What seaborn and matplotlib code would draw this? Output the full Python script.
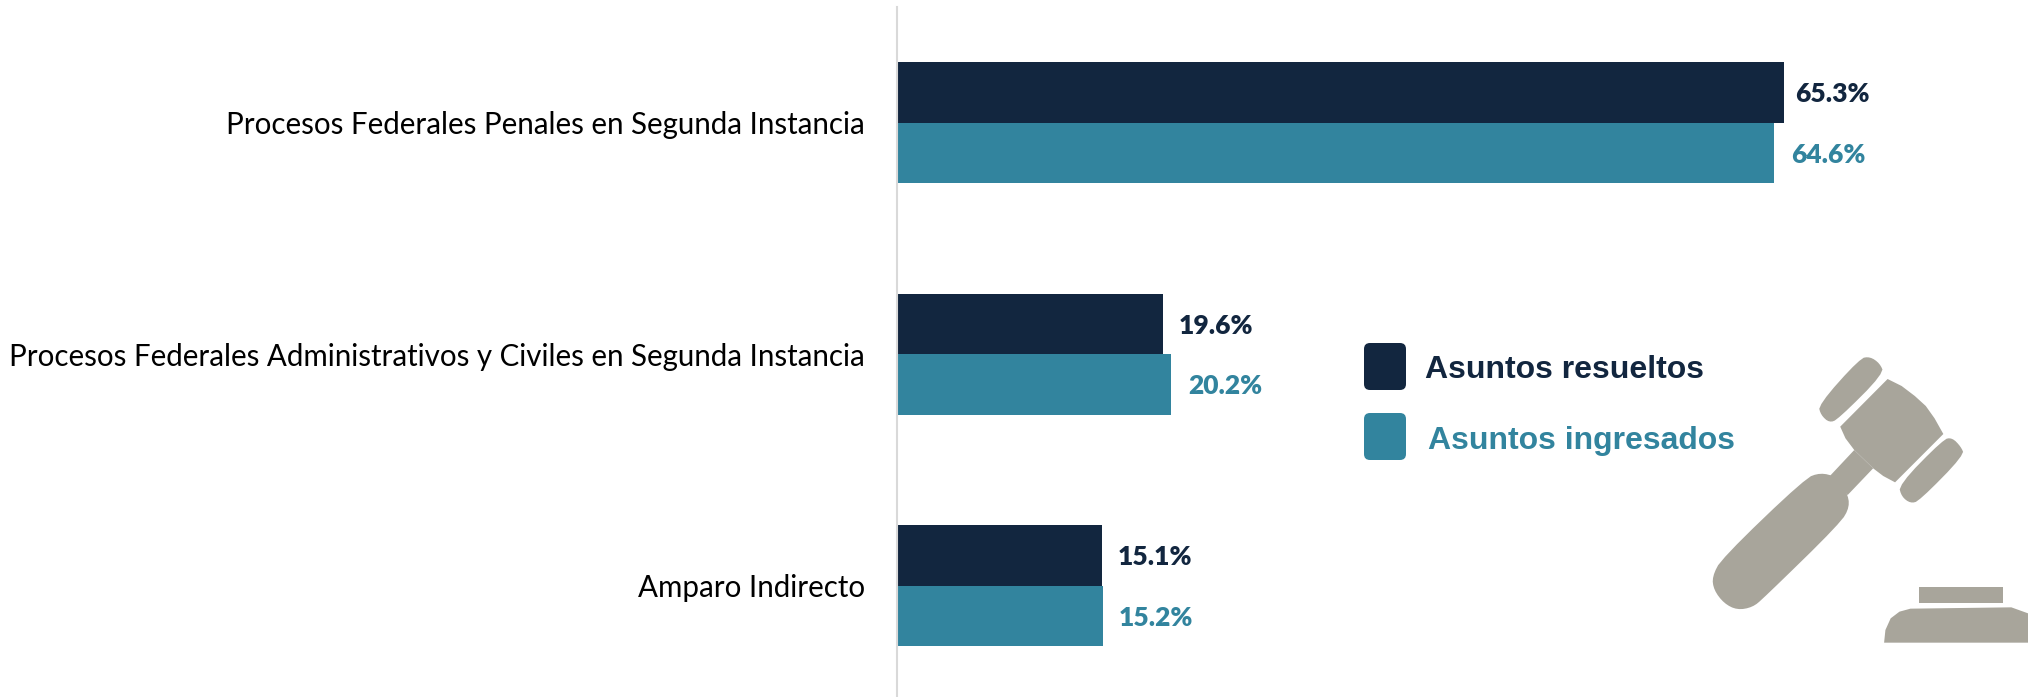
import matplotlib
matplotlib.use("Agg")
import matplotlib.pyplot as plt
import pandas as pd
import seaborn as sns
from matplotlib.patches import FancyBboxPatch, Polygon

categories = ["Procesos Federales Penales en Segunda Instancia",
              "Procesos Federales Administrativos y Civiles en Segunda Instancia",
              "Amparo Indirecto"]
series_names = ["Asuntos resueltos", "Asuntos ingresados"]
resueltos = [65.3, 19.6, 15.1]
ingresados = [64.6, 20.2, 15.2]
navy = "#12263F"
teal = "#32849E"
gray = "#A8A59B"

W, H, DPI = 2028, 697, 100
sns.set_theme(style="white")
plt.rcParams["font.family"] = ["Lato", "DejaVu Sans"]

df = pd.DataFrame({
    "categoria": categories * 2,
    "serie": [series_names[0]] * 3 + [series_names[1]] * 3,
    "valor": resueltos + ingresados,
})

fig = plt.figure(figsize=(W / DPI, H / DPI), dpi=DPI)
ax = fig.add_axes([897 / W, 0, 1 - 897 / W, 1])
sns.barplot(data=df, y="categoria", x="valor", hue="serie", order=categories,
            hue_order=series_names, palette=[navy, teal], width=0.5227, gap=0,
            saturation=1, legend=False, linewidth=0, ax=ax)
ax.set_xlim(0, (W - 897) / 13.58)
ax.set_ylim(2.48, -0.531)
ax.set_xlabel("")
ax.set_ylabel("")
ax.xaxis.set_visible(False)
ax.tick_params(axis="y", length=0, pad=23, labelsize=21.25, labelcolor="black")
for s in ["top", "right", "bottom"]:
    ax.spines[s].set_visible(False)
ax.spines["left"].set_color("#D9D9D9")
ax.spines["left"].set_linewidth(1.5)
ax.spines["left"].set_bounds(-0.5, 2.48)

paddings = [[8, 11, 11], [12, 12, 11]]
for container, color, pads in zip(ax.containers, [navy, teal], paddings):
    for bar, pad in zip(container, pads):
        ax.annotate(f"{bar.get_width():.1f}%",
                    (bar.get_width(), bar.get_y() + bar.get_height() / 2),
                    xytext=(pad, -1), textcoords="offset points", va="center", ha="left",
                    color=color, fontsize=19, fontweight="heavy")

# overlay in pixel space: legend and gavel decoration
ov = fig.add_axes([0, 0, 1, 1], facecolor="none")
ov.set_xlim(0, W)
ov.set_ylim(H, 0)
ov.axis("off")

for y0, color in [(343, navy), (413, teal)]:
    ov.add_patch(FancyBboxPatch((1370, y0 + 6), 30, 35, boxstyle="round,pad=6",
                                fc=color, ec="none"))
ov.text(1425, 370, series_names[0], color=navy, fontsize=23, fontweight="bold",
        family="Liberation Sans", va="center", ha="left")
ov.text(1428, 441, series_names[1], color=teal, fontsize=23, fontweight="bold",
        family="Liberation Sans", va="center", ha="left")


def z(points):
    return [(1340 + a / 2.279, 320 + b / 3) for a, b in points]


def smooth(points, n=2):
    for _ in range(n):
        out = []
        for i, p in enumerate(points):
            q = points[(i + 1) % len(points)]
            out.append((0.75 * p[0] + 0.25 * q[0], 0.75 * p[1] + 0.25 * q[1]))
            out.append((0.25 * p[0] + 0.75 * q[0], 0.25 * p[1] + 0.75 * q[1]))
        points = out
    return points


grip = [(1060, 475), (1095, 458), (1130, 470), (1155, 515), (1162, 560), (1140, 610), (965, 835),
        (940, 862), (905, 870), (875, 850), (852, 810), (848, 770), (870, 715)]
neck = [(1115, 470), (1172, 390), (1215, 445), (1157, 525)]
head = [(1140, 320), (1248, 177), (1280, 198), (1310, 228), (1335, 258), (1355, 295), (1375, 342),
        (1265, 487), (1238, 468), (1215, 445), (1172, 390), (1152, 355)]
pad_top = [(1185, 115), (1208, 110), (1230, 130), (1240, 160), (1135, 298), (1115, 308), (1096, 285),
           (1090, 255)]
pad_bottom = [(1375, 358), (1395, 353), (1415, 380), (1423, 405), (1320, 543), (1300, 550), (1280, 530),
              (1273, 495)]
base_top = [(1320, 800), (1512, 800), (1512, 848), (1320, 848)]
base = [(1240, 968), (1243, 930), (1255, 895), (1275, 875), (1300, 866), (1530, 862), (1568, 880),
        (1568, 968)]

for shape in [grip, pad_top, pad_bottom]:
    ov.add_patch(Polygon(z(smooth(shape)), closed=True, fc=gray, ec="none"))
for shape in [neck, head, base_top, base]:
    ov.add_patch(Polygon(z(shape), closed=True, fc=gray, ec="none"))

fig.savefig("out.png", dpi=DPI, facecolor="white")
